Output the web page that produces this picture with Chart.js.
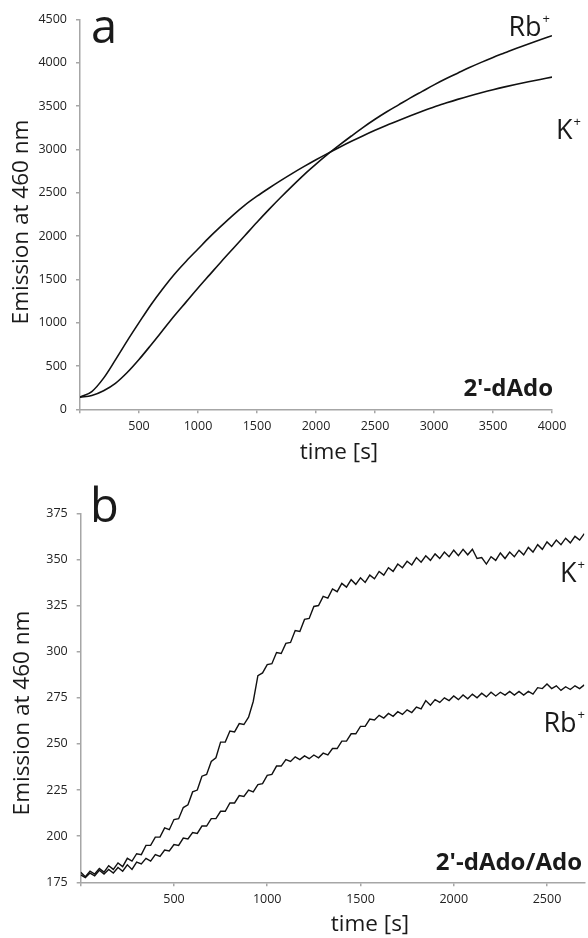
<!DOCTYPE html>
<html>
<head>
<meta charset="utf-8">
<script src="https://cdn.jsdelivr.net/npm/chart.js@4.4.0/dist/chart.umd.min.js"></script>
<style>
html, body { margin: 0; padding: 0; background: #fff; }
.panel { position: absolute; left: 0; width: 588px; }
</style>
</head>
<body>
<div class="panel" style="top:0"><canvas id="chartA" width="588" height="470"></canvas></div>
<div class="panel" style="top:470px"><canvas id="chartB" width="588" height="468"></canvas></div>
<script>
// panel a: 2'-dAdo, time in s
const timeA = [0,100,200,300,400,500,600,700,800,900,1000,1100,1200,1300,1400,1500,1600,1700,1800,1900,2000,
  2100,2200,2300,2400,2500,2600,2700,2800,2900,3000,3100,3200,3300,3400,3500,3600,3700,3800,3900,4000];
const kA = [140,205,360,570,790,1000,1205,1390,1560,1710,1850,1990,2120,2245,2360,2460,2552,2640,2724,2804,2881,
  2955,3026,3094,3159,3221,3280,3335,3388,3440,3490,3535,3578,3618,3655,3690,3722,3752,3781,3808,3835];
const rbA = [140,160,215,300,425,575,740,910,1080,1240,1400,1555,1710,1860,2010,2160,2305,2445,2580,2710,2830,
  2945,3052,3155,3255,3348,3435,3515,3595,3670,3745,3815,3880,3945,4005,4062,4115,4168,4218,4266,4313];
const xTicksA = [0,500,1000,1500,2000,2500,3000,3500,4000];
const yTicksA = [0,500,1000,1500,2000,2500,3000,3500,4000,4500];

// panel b: 2'-dAdo/Ado
const timeB = [0,25,50,75,100,125,150,175,200,225,250,275,300,325,350,375,400,425,450,475,500,525,550,575,
  600,625,650,675,700,725,750,775,800,825,850,875,900,925,950,975,1000,1025,1050,1075,1100,1125,1150,1175,
  1200,1225,1250,1275,1300,1325,1350,1375,1400,1425,1450,1475,1500,1525,1550,1575,1600,1625,1650,1675,1700,
  1725,1750,1775,1800,1825,1850,1875,1900,1925,1950,1975,2000,2025,2050,2075,2100,2125,2150,2175,2200,2225,
  2250,2275,2300,2325,2350,2375,2400,2425,2450,2475,2500,2525,2550,2575,2600,2625,2650,2675,2700];
const kB = [180.5,178,181,179.5,182.5,180.5,184,182,185.5,183.5,188,186.5,190.5,190,195,195,199.5,199.5,204.5,
  203.5,209,209.5,215.5,217,224,225,232.5,233.5,240.5,242.5,251,251,257,256.5,261,260.5,264.5,273,287,288.5,
  293,293.5,299.5,299,304.5,305,311.5,311,317.5,318,324.5,325,330,329,334,332.5,337,335,339,336.5,340,337.5,
  341.5,339.5,343.5,341.5,345.5,343.5,347.5,345.5,349,347,351,348.5,352,349.5,353,350.5,354,351.5,355,352,
  355.5,352.5,355.5,350.5,351,347.5,351.5,349.5,353.5,350.5,354,351.5,355,352.5,356.5,354,358,355.5,359.5,
  357,360.5,358,361.5,359,362.5,360.5,364];
const rbB = [179,177.5,180,178.5,181.5,179.5,182,180,183,181,184.5,182,186,185,188,186.5,190,189,192.5,192,
  195.5,195,199,198.5,202,201.5,205.5,205.5,209.5,209.5,213.5,213.5,218,218,222,221.5,225,224,228,228.5,233,
  233.5,238,238,241.5,240.5,243,241.5,243.5,242,244,242.5,245,244,247.5,247.5,251.5,251.5,255.5,255.5,259.5,
  259.5,263.5,263,265.5,264,266.5,265,267.5,266,268.5,267,270,269,273.5,271,274,272.5,275,273.5,276,274,
  276.5,274.5,277,275,277.5,275.5,278,276,278,276.5,278.5,276.5,278.5,276.5,278.5,277,280.5,280,282.5,280,
  281.5,279,281,279.5,281.5,280,282];
const xTicksB = [0,500,1000,1500,2000,2500];
const yTicksB = [175,200,225,250,275,300,325,350,375];

const fontFam = '"Open Sans", "Noto Sans", sans-serif';
const axisGray = '#a6a6a6';
const inkColor = '#1a1a1a';

// draws panel letters, ion labels and axis titles
const textPlugin = {
  id: 'panelText',
  afterDraw(chart, args, opts) {
    const ctx = chart.ctx;
    (opts.items || []).forEach(it => {
      ctx.save();
      ctx.fillStyle = inkColor;
      ctx.textBaseline = it.baseline || 'alphabetic';
      ctx.textAlign = 'left';
      ctx.translate(it.x, it.y);
      if (it.rotate) ctx.rotate(it.rotate);
      ctx.font = it.font;
      const w = ctx.measureText(it.text).width;
      let sw = 0;
      if (it.sup) {
        ctx.font = it.supFont;
        sw = ctx.measureText(it.sup).width + 1;
        ctx.font = it.font;
      }
      let x = 0;
      if (it.align === 'right') x = -w - sw;
      if (it.align === 'center') x = -(w + sw) / 2;
      ctx.fillText(it.text, x, 0);
      if (it.sup) {
        ctx.font = it.supFont;
        ctx.fillText(it.sup, x + w + 1, -it.supRise);
      }
      ctx.restore();
    });
  }
};

function lineSet(xs, ys, width, smooth) {
  return {
    data: xs.map((t, i) => ({x: t, y: ys[i]})),
    borderColor: '#111',
    borderWidth: width,
    pointRadius: 0,
    fill: false,
    tension: 0,
    cubicInterpolationMode: smooth ? 'monotone' : 'default'
  };
}

function axisX(max, tickVals, height) {
  return {
    type: 'linear', min: 0, max: max,
    afterBuildTicks(s) { s.ticks = tickVals.map(v => ({value: v})); },
    ticks: {
      autoSkip: false, maxRotation: 0,
      callback: v => v === 0 ? '' : String(v),
      font: {family: fontFam, size: 12.5}, color: '#222', padding: 6
    },
    grid: {drawOnChartArea: false, drawTicks: true, tickLength: 4, color: axisGray, lineWidth: 1.5},
    border: {color: axisGray, width: 1.5},
    afterFit(s) { s.height = height; }
  };
}

function axisY(min, max, tickVals, width) {
  return {
    type: 'linear', min: min, max: max,
    afterBuildTicks(s) { s.ticks = tickVals.map(v => ({value: v})); },
    ticks: {
      autoSkip: false,
      callback: v => String(v),
      font: {family: fontFam, size: 12.5}, color: '#222', padding: 9
    },
    grid: {drawOnChartArea: false, drawTicks: true, tickLength: 4, color: axisGray, lineWidth: 1.5},
    border: {color: axisGray, width: 1.5},
    afterFit(s) { s.width = width; }
  };
}

const ionFont = '27px ' + fontFam, supFont = '13px ' + fontFam;
const titleFont = '22.5px ' + fontFam;

new Chart(document.getElementById('chartA'), {
  type: 'line',
  data: {datasets: [lineSet(timeA, kA, 1.6, true), lineSet(timeA, rbA, 1.6, true)]},
  options: {
    responsive: false, animation: false,
    layout: {padding: {top: 19.5, right: 36, bottom: 0, left: 0}},
    scales: {x: axisX(4000, xTicksA, 60.7), y: axisY(0, 4500, yTicksA, 80)},
    plugins: {
      legend: {display: false}, tooltip: {enabled: false},
      panelText: {items: [
        {text: 'a', x: 91, y: 43, font: '47px ' + fontFam},
        {text: 'Rb', sup: '+', x: 550, y: 36, align: 'right', font: ionFont, supFont: supFont, supRise: 13},
        {text: 'K', sup: '+', x: 581, y: 139, align: 'right', font: ionFont, supFont: supFont, supRise: 13},
        {text: "2'-dAdo", x: 553, y: 396, align: 'right', font: 'bold 24px ' + fontFam},
        {text: 'time [s]', x: 339, y: 459, align: 'center', font: titleFont},
        {text: 'Emission at 460 nm', x: 22, y: 222, align: 'center', baseline: 'middle', rotate: -Math.PI / 2, font: titleFont}
      ]}
    }
  },
  plugins: [textPlugin]
});

new Chart(document.getElementById('chartB'), {
  type: 'line',
  data: {datasets: [lineSet(timeB, kB, 1.4, false), lineSet(timeB, rbB, 1.4, false)]},
  options: {
    responsive: false, animation: false,
    layout: {padding: {top: 43.3, right: 3.7, bottom: 0, left: 0}},
    scales: {x: axisX(2700, xTicksB, 55.7), y: axisY(175, 375, yTicksB, 80.7)},
    plugins: {
      legend: {display: false}, tooltip: {enabled: false},
      panelText: {items: [
        {text: 'b', x: 90, y: 52, font: '47px ' + fontFam},
        {text: 'K', sup: '+', x: 585, y: 112, align: 'right', font: ionFont, supFont: supFont, supRise: 13},
        {text: 'Rb', sup: '+', x: 585, y: 262, align: 'right', font: ionFont, supFont: supFont, supRise: 13},
        {text: "2'-dAdo/Ado", x: 582, y: 400, align: 'right', font: 'bold 24px ' + fontFam},
        {text: 'time [s]', x: 370, y: 461, align: 'center', font: titleFont},
        {text: 'Emission at 460 nm', x: 23, y: 243, align: 'center', baseline: 'middle', rotate: -Math.PI / 2, font: titleFont}
      ]}
    }
  },
  plugins: [textPlugin]
});
</script>
</body>
</html>
